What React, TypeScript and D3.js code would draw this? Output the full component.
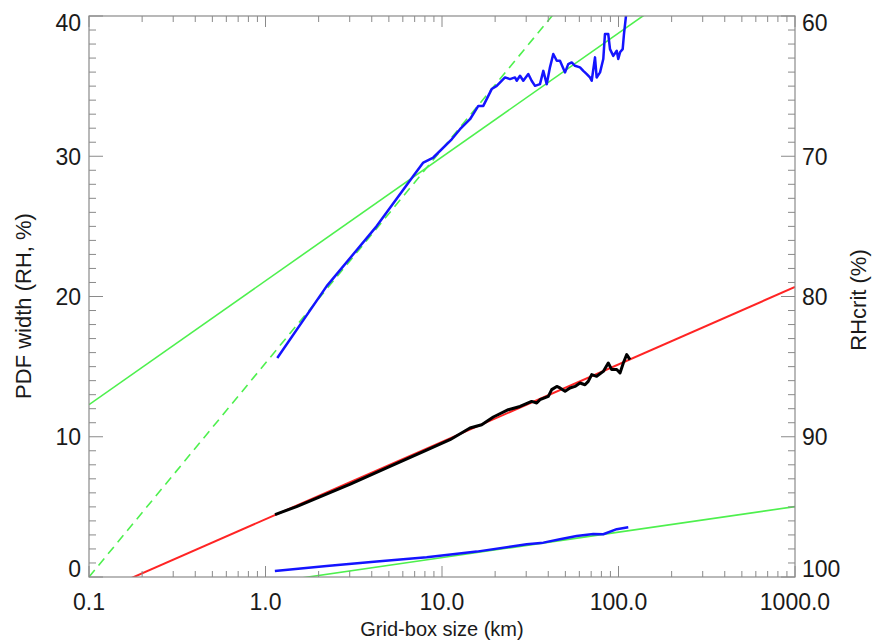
import React from "react";
import * as d3 from "d3";

// ---- data ----
const blueUpperX = [1.166, 2.222, 4.266, 6.877, 7.834, 8.93, 11.35, 12.65, 14.41, 16.06, 17.14, 19.12, 20.42, 22.75, 24.27, 25.92, 26.5, 27.67, 28.88, 30.83, 32.2, 33.65, 35.9, 37.5, 39.2, 40.9, 42.7, 44.7, 46.6, 49.8, 51.9, 54.3, 56.7, 60.5, 63.2, 66.1, 68.9, 70.5, 73.6, 75.2, 78.6, 82.0, 83.8, 87.5, 89.5, 93.4, 97.7, 99.7, 102.0, 105.6, 107.4, 110.3, 112];
const blueUpperY = [15.62, 20.74, 25.02, 28.59, 29.55, 29.91, 31.21, 31.93, 32.64, 33.59, 33.59, 34.79, 35.02, 35.62, 35.5, 35.62, 35.38, 35.74, 35.38, 35.86, 35.38, 35.02, 35.14, 36.09, 35.14, 36.34, 37.29, 36.81, 36.81, 35.98, 36.57, 36.69, 36.45, 36.34, 36.09, 35.86, 35.62, 35.38, 37.05, 35.62, 35.98, 36.93, 38.71, 38.71, 37.64, 37.16, 37.52, 36.93, 37.41, 37.64, 38.71, 40.02, 41.5];

const blackX = [1.132, 1.5, 2.0, 3.0, 5.0, 8.0, 11.1, 14.41, 16.79, 19.53, 23.75, 27.67, 32.2, 34.4, 35.9, 40.03, 41.83, 44.7, 46.6, 49.8, 53.1, 56.7, 60.5, 64.6, 67.4, 70.5, 75.2, 82.0, 87.5, 91.5, 97.7, 102, 106.5, 111.3, 116.2];
const blackY = [4.45, 5.02, 5.68, 6.6, 7.85, 9.0, 9.79, 10.62, 10.86, 11.41, 11.93, 12.16, 12.52, 12.41, 12.64, 12.88, 13.36, 13.59, 13.48, 13.24, 13.48, 13.59, 13.83, 13.71, 13.95, 14.43, 14.31, 14.66, 15.26, 14.79, 14.79, 14.55, 15.26, 15.86, 15.5];

const blueLowX = [1.13, 2.22, 4.27, 8.19, 15.73, 30.2, 37.5, 46.6, 57.9, 72.0, 82.0, 97.7, 113.6];
const blueLowY = [0.43, 0.79, 1.1, 1.41, 1.81, 2.33, 2.45, 2.69, 2.93, 3.07, 3.05, 3.41, 3.55];

const fitX = [0.1, 1000];
const redFitY = [-1.4, 20.68];
const greenDashedY = [0, 61.0];
const greenUpperY = [12.29, 47.61];
const greenLowerY = [-2.26, 5.02];

const xMajor = [0.1, 1, 10, 100, 1000];
const xLabels = ["0.1", "1.0", "10.0", "100.0", "1000.0"];
const yMajor = [0, 10, 20, 30, 40];
const yLabels = ["0", "10", "20", "30", "40"];
const rMajor = [60, 70, 80, 90, 100];
const rLabels = ["60", "70", "80", "90", "100"];

const xTitle = "Grid-box size (km)";
const yTitle = "PDF width (RH, %)";
const rTitle = "RHcrit (%)";

// ---- layout ----
const W = 873, H = 642;
const L = 89, R = 795, T = 16, B = 577;
const FONT = "'Liberation Sans', Arial, Helvetica, sans-serif";
const AX = "#8a8a8a";
const TXT = "#1a1a1a";

export default function App() {
  const x = d3.scaleLog().domain([0.1, 1000]).range([L, R]);
  const y = d3.scaleLinear().domain([0, 40]).range([B, T]);
  const yr = d3.scaleLinear().domain([100, 60]).range([B, T]);

  const line = d3.line<[number, number]>().x(d => x(d[0])).y(d => y(d[1]));
  const pts = (xs: number[], ys: number[]) => xs.map((v, i) => [v, ys[i]] as [number, number]);

  const xMinor: number[] = [];
  [0.1, 1, 10, 100].forEach(dec => { for (let m = 2; m <= 9; m++) xMinor.push(dec * m); });
  const yMinor = y.ticks(40).filter(v => !yMajor.includes(v));
  const rMinor = yr.ticks(40).filter(v => !rMajor.includes(v));

  const labelBase = (py: number) => Math.min(Math.max(py + 8.3, T + 14.5), B);

  return (
    <div style={{ position: "absolute", left: 0, top: 0 }}>
      <svg width={W} height={H} style={{ display: "block", background: "#fff" }}>
        <defs>
          <clipPath id="plot"><rect x={L} y={T} width={R - L} height={B - T} /></clipPath>
        </defs>
        <g clipPath="url(#plot)" fill="none" strokeLinejoin="round">
          <path d={line(pts(fitX, greenDashedY)) || ""} stroke="#4ef04e" strokeWidth={1.6} strokeDasharray="9,6" />
          <path d={line(pts(fitX, greenUpperY)) || ""} stroke="#4ef04e" strokeWidth={1.6} />
          <path d={line(pts(fitX, greenLowerY)) || ""} stroke="#4ef04e" strokeWidth={1.6} />
          <path d={line(pts(fitX, redFitY)) || ""} stroke="#ff2424" strokeWidth={2} />
          <path d={line(pts(blackX, blackY)) || ""} stroke="#000" strokeWidth={3} />
          <path d={line(pts(blueLowX, blueLowY)) || ""} stroke="#1414ff" strokeWidth={2.5} />
          <path d={line(pts(blueUpperX, blueUpperY)) || ""} stroke="#1414ff" strokeWidth={2.5} />
        </g>
        {/* frame */}
        <rect x={L} y={T} width={R - L} height={B - T} fill="none" stroke={AX} strokeWidth={1.2} />
        {/* x ticks bottom & top */}
        {xMajor.map((v, i) => (
          <g key={"xm" + i}>
            <line x1={x(v)} x2={x(v)} y1={B} y2={B - 11} stroke={AX} />
            <line x1={x(v)} x2={x(v)} y1={T} y2={T + 11} stroke={AX} />
            <text x={x(v)} y={610} textAnchor="middle" fontFamily={FONT} fontSize={23} fill={TXT}>{xLabels[i]}</text>
          </g>
        ))}
        {xMinor.map((v, i) => (
          <g key={"xn" + i}>
            <line x1={x(v)} x2={x(v)} y1={B} y2={B - 6} stroke={AX} />
            <line x1={x(v)} x2={x(v)} y1={T} y2={T + 6} stroke={AX} />
          </g>
        ))}
        {/* left axis */}
        {yMajor.map((v, i) => (
          <g key={"ym" + i}>
            <line x1={L} x2={L + 14} y1={y(v)} y2={y(v)} stroke={AX} />
            <text x={81} y={labelBase(y(v))} textAnchor="end" fontFamily={FONT} fontSize={23} fill={TXT}>{yLabels[i]}</text>
          </g>
        ))}
        {yMinor.map((v, i) => (
          <line key={"yn" + i} x1={L} x2={L + 7} y1={y(v)} y2={y(v)} stroke={AX} />
        ))}
        {/* right axis */}
        {rMajor.map((v, i) => (
          <g key={"rm" + i}>
            <line x1={R} x2={R - 14} y1={yr(v)} y2={yr(v)} stroke={AX} />
            <text x={802} y={labelBase(yr(v))} textAnchor="start" fontFamily={FONT} fontSize={23} fill={TXT}>{rLabels[i]}</text>
          </g>
        ))}
        {rMinor.map((v, i) => (
          <line key={"rn" + i} x1={R} x2={R - 7} y1={yr(v)} y2={yr(v)} stroke={AX} />
        ))}
        {/* titles */}
        <text x={442} y={636} textAnchor="middle" fontFamily={FONT} fontSize={20} fill={TXT}>{xTitle}</text>
        <text transform={`translate(31,306) rotate(-90)`} textAnchor="middle" fontFamily={FONT} fontSize={22} fill={TXT}>{yTitle}</text>
        <text transform={`translate(866,300) rotate(-90)`} textAnchor="middle" fontFamily={FONT} fontSize={22} fill={TXT}>{rTitle}</text>
      </svg>
    </div>
  );
}
